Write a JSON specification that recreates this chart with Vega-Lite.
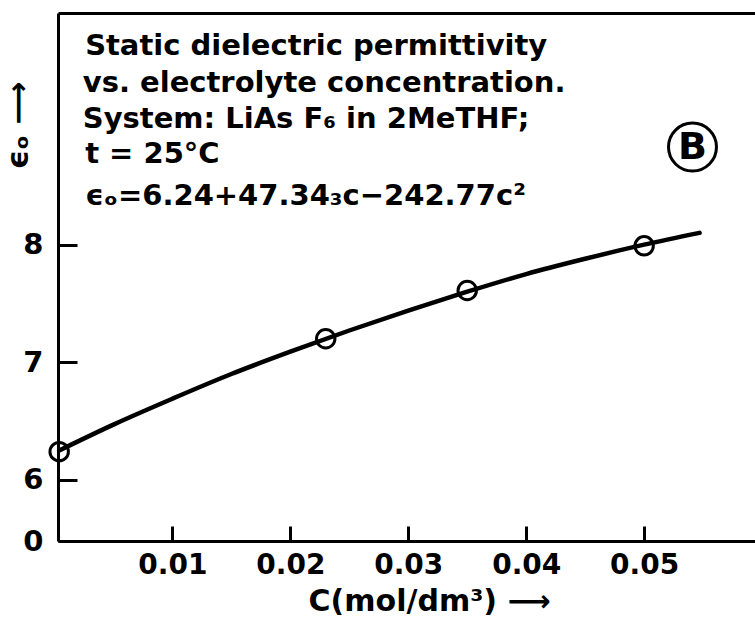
{
  "$schema": "https://vega.github.io/schema/vega-lite/v6.json",
  "width": 697,
  "height": 528,
  "autosize": {"type": "none"},
  "padding": {"left": 58, "top": 13, "right": 0, "bottom": 89},
  "background": "white",
  "config": {"view": {"stroke": null}, "font": "DejaVu Sans"},
  "datasets": {
    "curve": [
      {"c": 0.0004, "eps": 6.25},
      {"c": 0.005, "eps": 6.47},
      {"c": 0.01, "eps": 6.69},
      {"c": 0.015, "eps": 6.9},
      {"c": 0.02, "eps": 7.09},
      {"c": 0.025, "eps": 7.27},
      {"c": 0.03, "eps": 7.44},
      {"c": 0.035, "eps": 7.6},
      {"c": 0.04, "eps": 7.75},
      {"c": 0.045, "eps": 7.88},
      {"c": 0.05, "eps": 8.0},
      {"c": 0.0547, "eps": 8.1}
    ],
    "points": [
      {"c": 0.0004, "eps": 6.24},
      {"c": 0.023, "eps": 7.2},
      {"c": 0.035, "eps": 7.61},
      {"c": 0.05, "eps": 7.99}
    ],
    "notes": [
      {"c": 0.0026, "eps": 9.614, "label": "Static dielectric permittivity"},
      {"c": 0.0024, "eps": 9.3, "label": "vs. electrolyte concentration."},
      {"c": 0.0024, "eps": 8.993, "label": "System: LiAs F₆ in 2MeTHF;"},
      {"c": 0.0026, "eps": 8.696, "label": "t = 25°C"},
      {"c": 0.0026, "eps": 8.338, "label": "ϵₒ=6.24+47.34₃c−242.77c²"}
    ],
    "badge": [
      {"c": 0.0541, "eps": 8.83, "label": "B"}
    ]
  },
  "resolve": {"axis": {"x": "independent"}},
  "layer": [
    {
      "data": {"name": "curve"},
      "mark": {"type": "line", "interpolate": "monotone", "color": "black", "strokeWidth": 4.5, "strokeCap": "round"},
      "encoding": {
        "x": {
          "field": "c", "type": "quantitative",
          "scale": {"domain": [0.0003, 0.0594], "nice": false, "zero": false},
          "axis": {
            "orient": "bottom", "values": [0.01, 0.02, 0.03, 0.04, 0.05], "format": ".2f",
            "grid": false, "domainWidth": 3, "domainColor": "black",
            "tickSize": -15, "tickWidth": 3, "tickColor": "black",
            "labelFont": "DejaVu Sans", "labelFontWeight": "bold", "labelFontSize": 28, "labelColor": "black",
            "labelPadding": 25, "labelFlush": false, "labelOverlap": false,
            "title": "C(mol/dm³) ⟶", "titleFont": "DejaVu Sans", "titleFontWeight": "bold", "titleFontSize": 30,
            "titleColor": "black", "titleX": 371, "titleY": 69, "titleAlign": "center", "titleBaseline": "alphabetic"
          }
        },
        "y": {
          "field": "eps", "type": "quantitative",
          "scale": {"domain": [5.48, 9.97], "nice": false, "zero": false},
          "axis": {
            "values": [5.48, 6, 7, 8], "format": ".0f",
            "labelExpr": "datum.value < 5.9 ? '0' : datum.label",
            "grid": false, "domainWidth": 3, "domainColor": "black",
            "tickSize": -19, "tickWidth": 3, "tickColor": "black",
            "labelFont": "DejaVu Sans", "labelFontWeight": "bold", "labelFontSize": 29, "labelColor": "black",
            "labelPadding": 34, "labelFlush": false, "labelOverlap": false, "labelBaseline": "middle",
            "title": "ϵₒ ⟶", "titleFont": "DejaVu Sans", "titleFontWeight": "bold", "titleFontSize": 30,
            "titleColor": "black", "titleAngle": -90, "titleX": -40, "titleY": 112,
            "titleAlign": "center", "titleBaseline": "middle"
          }
        }
      }
    },
    {
      "data": {"name": "points"},
      "mark": {"type": "point", "shape": "circle", "filled": false, "opacity": 1, "size": 340, "strokeWidth": 3, "color": "black"},
      "encoding": {
        "x": {
          "field": "c", "type": "quantitative",
          "axis": {"orient": "top", "labels": false, "ticks": false, "grid": false, "domainWidth": 3, "domainColor": "black", "title": null}
        },
        "y": {"field": "eps", "type": "quantitative"}
      }
    },
    {
      "data": {"name": "notes"},
      "mark": {"type": "text", "align": "left", "baseline": "alphabetic", "font": "DejaVu Sans", "fontWeight": "bold", "fontSize": 29, "color": "black"},
      "encoding": {
        "x": {"field": "c", "type": "quantitative", "axis": null},
        "y": {"field": "eps", "type": "quantitative"},
        "text": {"field": "label"}
      }
    },
    {
      "data": {"name": "badge"},
      "mark": {"type": "point", "shape": "circle", "filled": false, "opacity": 1, "size": 2300, "strokeWidth": 3, "color": "black"},
      "encoding": {
        "x": {"field": "c", "type": "quantitative", "axis": null},
        "y": {"field": "eps", "type": "quantitative"}
      }
    },
    {
      "data": {"name": "badge"},
      "mark": {"type": "text", "align": "center", "baseline": "middle", "font": "DejaVu Sans", "fontWeight": "bold", "fontSize": 38, "color": "black", "dy": 1},
      "encoding": {
        "x": {"field": "c", "type": "quantitative", "axis": null},
        "y": {"field": "eps", "type": "quantitative"},
        "text": {"field": "label"}
      }
    }
  ]
}
